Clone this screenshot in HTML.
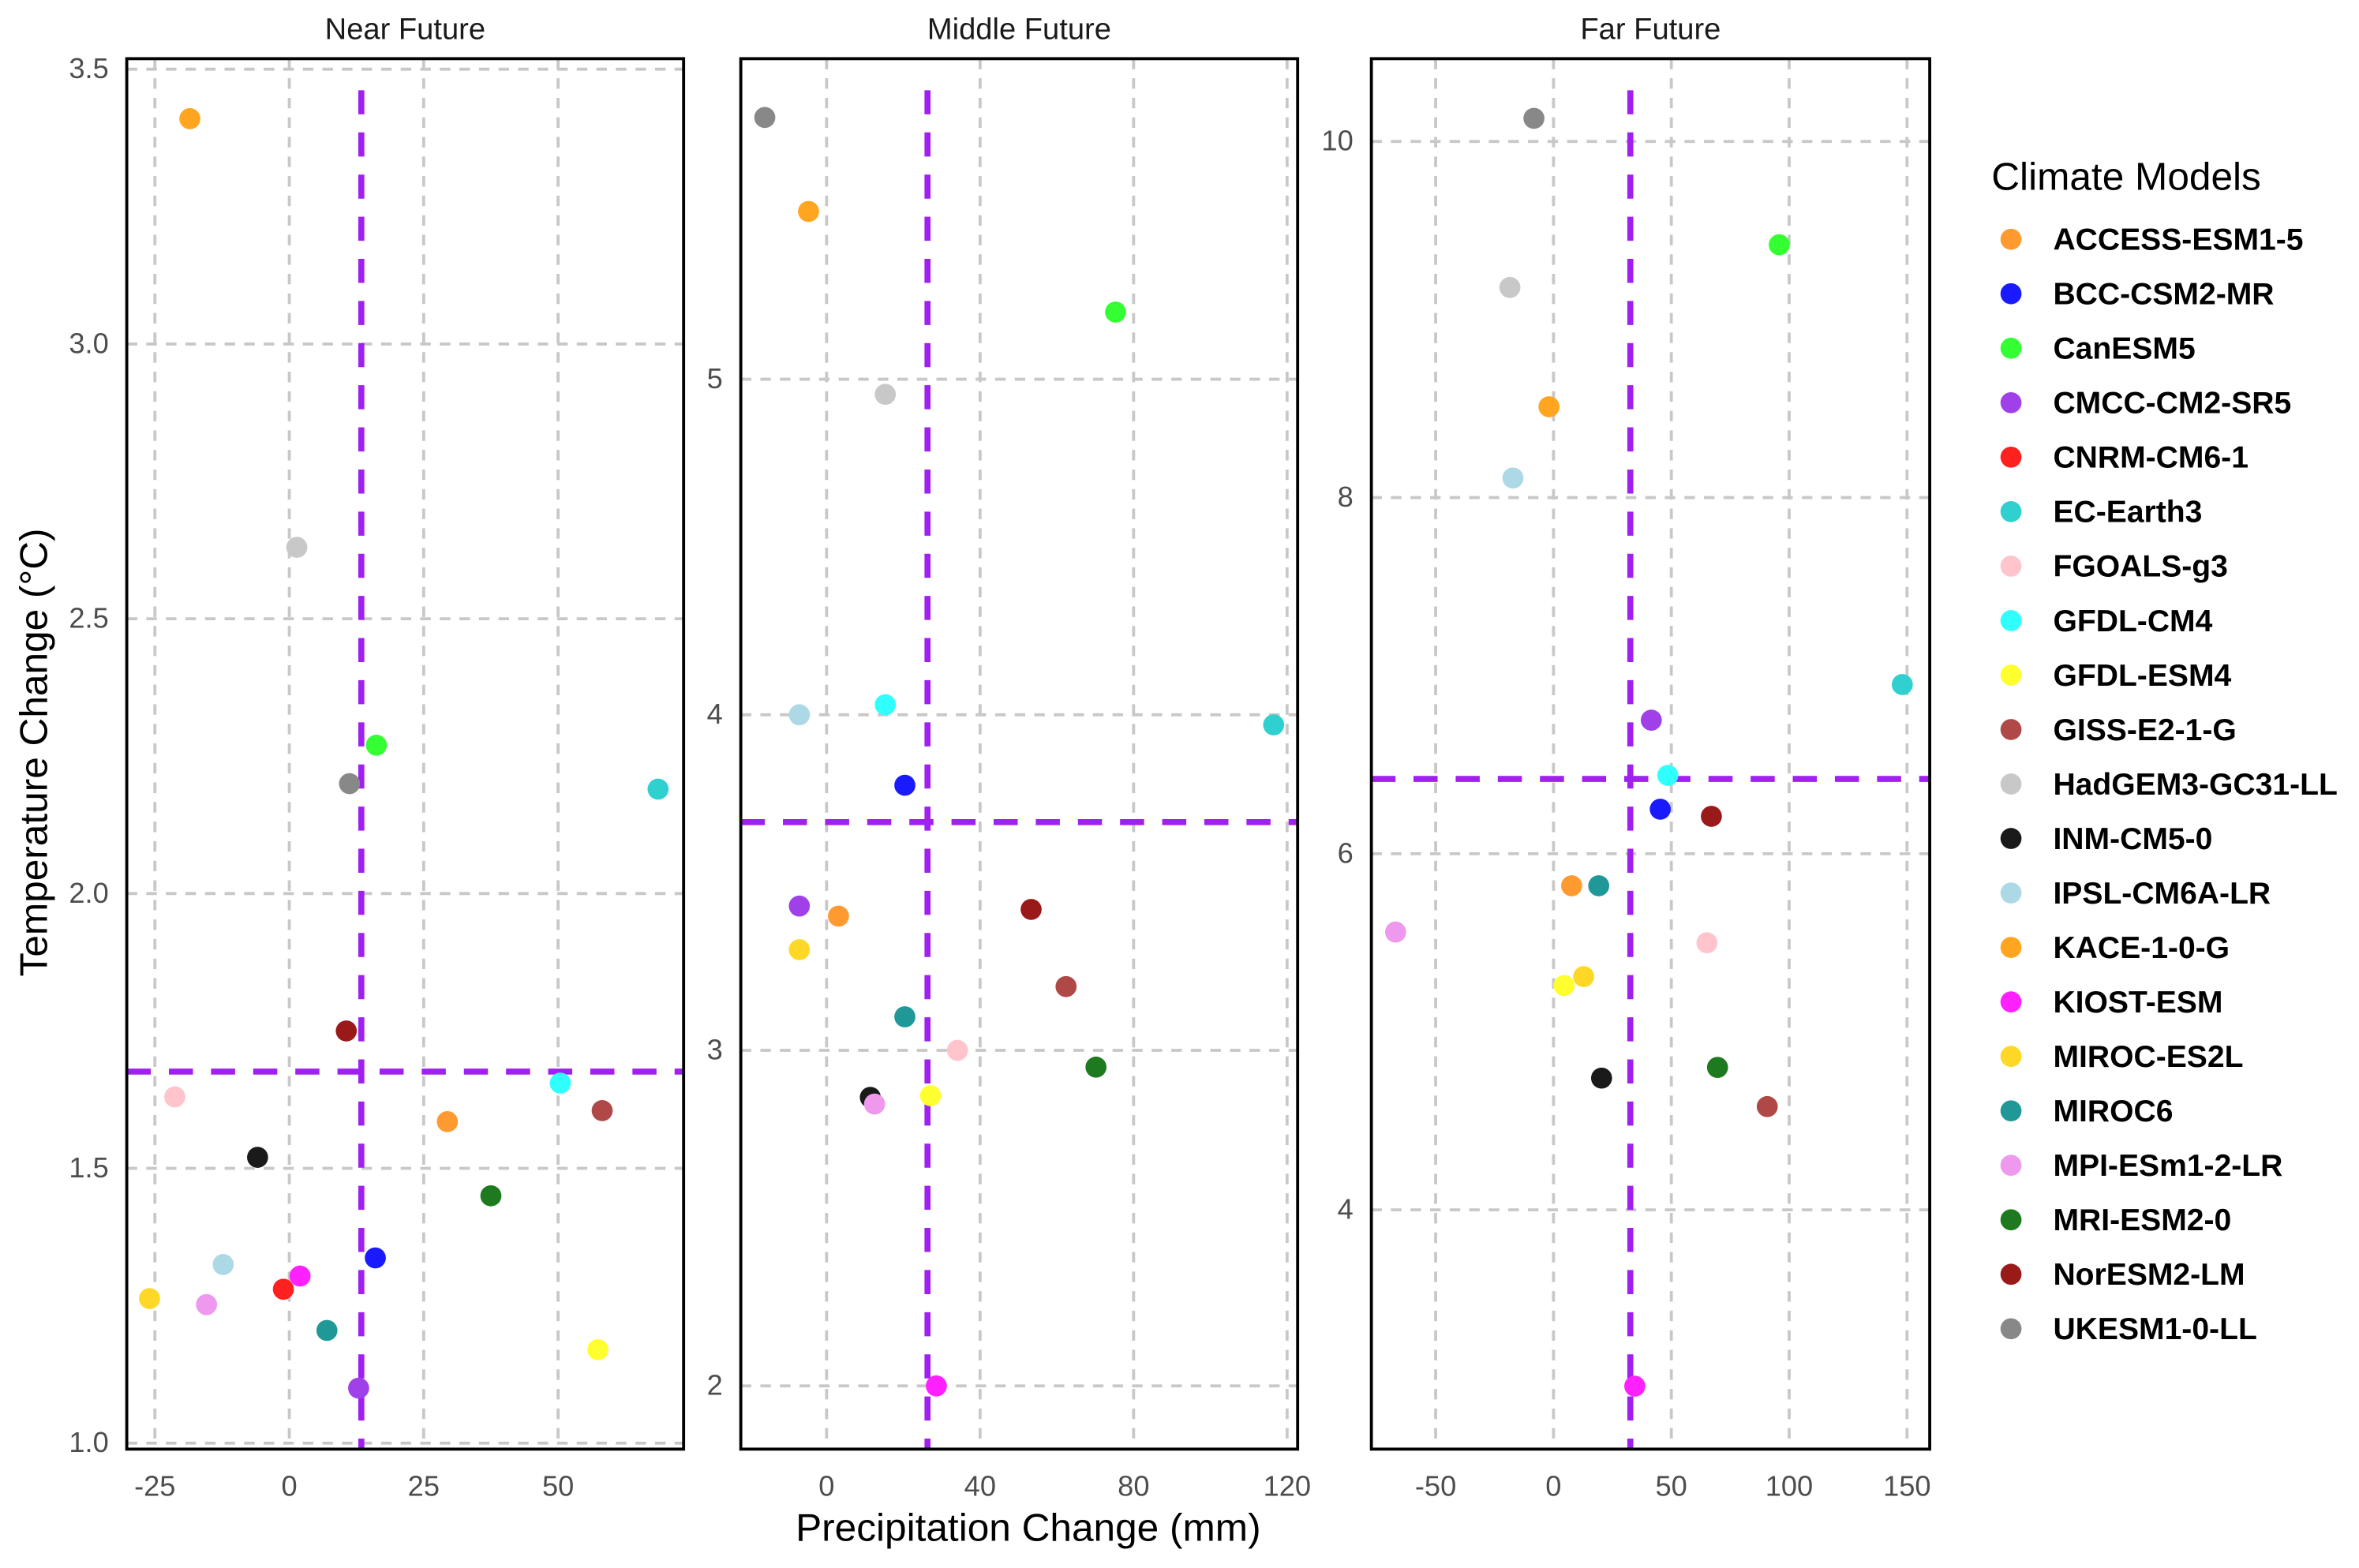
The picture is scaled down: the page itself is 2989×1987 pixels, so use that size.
<!DOCTYPE html>
<html><head><meta charset="utf-8"><style>
html,body{margin:0;padding:0;background:#fff;}
svg{display:block;font-family:"Liberation Sans",Arial,sans-serif;}
</style></head><body>
<svg id="chart" width="2989" height="1987" viewBox="0 0 1567 1042" xmlns="http://www.w3.org/2000/svg">
<rect width="1567" height="1042" fill="#fff"/>
<text x="0" y="0" transform="translate(31,500) rotate(-90)" text-anchor="middle" font-size="26" fill="#000">Temperature Change (°C)</text>
<text x="683" y="1024" text-anchor="middle" font-size="26" fill="#000">Precipitation Change (mm)</text>
<g id="panels"></g>
<g id="legend"></g>
</svg>
<script>
const models = ["ACCESS-ESM1-5","BCC-CSM2-MR","CanESM5","CMCC-CM2-SR5","CNRM-CM6-1","EC-Earth3","FGOALS-g3","GFDL-CM4","GFDL-ESM4","GISS-E2-1-G","HadGEM3-GC31-LL","INM-CM5-0","IPSL-CM6A-LR","KACE-1-0-G","KIOST-ESM","MIROC-ES2L","MIROC6","MPI-ESm1-2-LR","MRI-ESM2-0","NorESM2-LM","UKESM1-0-LL"];
const colors = ["#FF9a30","#1a1aff","#33ff33","#a040e8","#ff2020","#30d0d0","#ffc4cc","#30ffff","#ffff30","#b04848","#c8c8c8","#1a1a1a","#add8e6","#ffa520","#ff20ff","#ffd726","#209898","#ee98ee","#1e7a1e","#9a1a1a","#888888"];
const nearPrecip = [29.4,16,16.2,12.9,-1.1,68.6,-21.3,50.4,57.4,58.2,1.4,-5.9,-12.3,-18.5,2,-26,7,-15.4,37.5,10.6,11.2];
const nearTemp   = [1.585,1.337,2.27,1.10,1.28,2.19,1.63,1.655,1.17,1.605,2.63,1.52,1.325,3.41,1.304,1.263,1.205,1.252,1.45,1.75,2.20];
const midPrecip = [3.1,20.4,75.3,-7.1,null,116.5,34.1,15.3,27.1,62.4,15.3,11.4,-7.1,-4.7,28.6,-7.1,20.4,12.5,70.2,53.3,-16.1];
const midTemp   = [3.40,3.79,5.20,3.43,null,3.97,3.0,4.03,2.865,3.19,4.955,2.86,4.0,5.50,2.0,3.30,3.10,2.84,2.95,3.42,5.78];
const farPrecip = [7.7,45.3,95.8,41.5,null,148,65.1,48.5,4.5,90.7,-18.5,20.4,-17.2,-1.9,34.5,12.8,19.2,-67,69.6,67,-8.3];
const farTemp   = [5.82,6.25,9.42,6.75,null,6.95,5.50,6.44,5.26,4.58,9.18,4.74,8.11,8.51,3.01,5.31,5.82,5.56,4.80,6.21,10.13];
const nearRef = [13.4,1.676], midRef = [26.3,3.68], farRef = [32.6,6.42];
const nearXTicks = [-25,0,25,50], nearYTicks = ["1.0","1.5","2.0","2.5","3.0","3.5"];
const midXTicks = [0,40,80,120], midYTicks = [2,3,4,5];
const farXTicks = [-50,0,50,100,150], farYTicks = [4,6,8,10];
const panelTitles = ["Near Future","Middle Future","Far Future"];

const NS="http://www.w3.org/2000/svg";
function mk(tag,attrs,parent){const e=document.createElementNS(NS,tag);for(const k in attrs)e.setAttribute(k,attrs[k]);parent.appendChild(e);return e;}
function lin(d0,d1,r0,r1){return v=>r0+(v-d0)*(r1-r0)/(d1-d0);}

const panels=[
 {name:"near",L:84,R:454,x:lin(0,25,192,281.3),y:lin(1,3.5,959,46),px:nearPrecip,ty:nearTemp,ref:nearRef,xt:nearXTicks,yt:nearYTicks},
 {name:"middle",L:492,R:862,x:lin(0,40,549,651),y:lin(2,5,921,252),px:midPrecip,ty:midTemp,ref:midRef,xt:midXTicks,yt:midYTicks},
 {name:"far",L:911,R:1282,x:lin(0,50,1032,1110.3),y:lin(4,10,804,94),px:farPrecip,ty:farTemp,ref:farRef,xt:farXTicks,yt:farYTicks}
];
const T=39,B=963;
const root=document.getElementById('panels');
panels.forEach((p,pi)=>{
 const g=mk('g',{},root);
 
 
 const t=mk('text',{x:(p.L+p.R)/2,y:26,'text-anchor':'middle','font-size':20,fill:'#1a1a1a'},g);
 t.textContent=panelTitles[pi];
 
 
 p.xt.forEach(v=>{const X=p.x(v);
  const l=mk('line',{x1:X,x2:X,y1:T,y2:B,stroke:'#c8c8c8','stroke-width':2,'stroke-dasharray':'7,6'},g);
  
  
  const tx=mk('text',{x:X,y:994,'text-anchor':'middle','font-size':19,fill:'#4d4d4d'},g);tx.textContent=v;
  
  
 });
 p.yt.forEach(v=>{const Y=p.y(+v);
  const l=mk('line',{x1:p.L,x2:p.R,y1:Y,y2:Y,stroke:'#c8c8c8','stroke-width':2,'stroke-dasharray':'7,6'},g);
  
  
  const ty=mk('text',{x:p.L-12,y:Y+6,'text-anchor':'end','font-size':19,fill:'#4d4d4d'},g);ty.textContent=v;
  
  
 });
 const vx=p.x(p.ref[0]),hy=p.y(p.ref[1]);
 const vl=mk('line',{x1:vx,x2:vx,y1:60,y2:B,stroke:'#a020f0','stroke-width':4,'stroke-dasharray':'16,12'},g);
 
 
 const hl=mk('line',{x1:p.L,x2:p.R,y1:hy,y2:hy,stroke:'#a020f0','stroke-width':4,'stroke-dasharray':'16,12'},g);
 
 
 models.forEach((m,i)=>{
  if(p.px[i]===null||p.ty[i]===null)return;
  const c=mk('circle',{cx:p.x(p.px[i]),cy:p.y(p.ty[i]),r:7,fill:colors[i]},g);
  
  
 });
 const bd=mk('rect',{x:p.L,y:T,width:p.R-p.L,height:B-T,fill:'none',stroke:'#000','stroke-width':2},g);
 
 
});
const lg=document.getElementById('legend');
const lt=mk('text',{x:1323,y:126,'font-size':26,fill:'#000'},lg);lt.textContent="Climate Models";


models.forEach((m,i)=>{
 const y=159+i*36.2;
 const e=mk('g',{},lg);
 
 
 mk('circle',{cx:1336,cy:y,r:7,fill:colors[i]},e);
 const tx=mk('text',{x:1364,y:y+7,'font-size':20.5,'font-weight':'bold',fill:'#000'},e);tx.textContent=m;
});
</script>
</body></html>
